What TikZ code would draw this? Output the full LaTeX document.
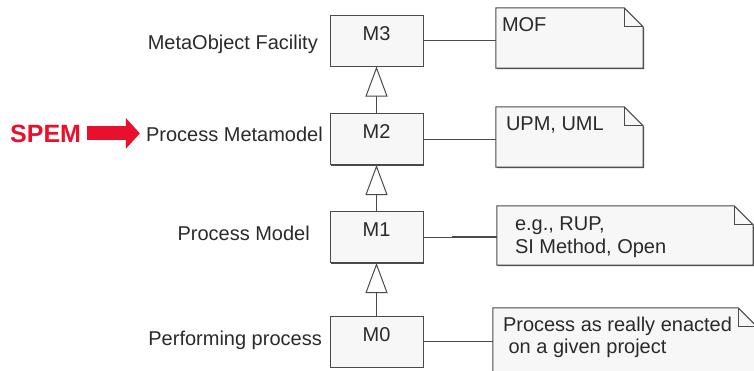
\documentclass[tikz,border=0pt]{standalone}
\usepackage{fontspec}
\setmainfont{Liberation Sans}
\usepackage{xcolor}
\usepackage{tikz}
\usetikzlibrary{arrows.meta,shadows,calc}

\definecolor{spemred}{HTML}{E8102C}
\definecolor{edge}{HTML}{4A4A4A}
\definecolor{paper}{HTML}{F7F7F7}
\definecolor{ink}{HTML}{2A2A2A}

\tikzset{
  lvl/.style={draw=edge, fill=paper, line width=1pt, minimum width=93pt, minimum height=51pt,
    text height=14pt, text depth=15pt, font=\fontsize{20}{24}\selectfont, text=ink,
    drop shadow={shadow xshift=1pt, shadow yshift=-1pt, fill=edge, opacity=1}},
  lbl/.style={inner sep=0pt, font=\fontsize{20}{24}\selectfont, text=ink},
  note/.style={inner sep=0pt},
  notetext/.style={inner sep=0pt, anchor=north west, align=left, font=\fontsize{20}{22.5}\selectfont, text=ink},
  link/.style={draw=edge, line width=1pt},
  genarrow/.style={draw=edge, line width=1pt, -{Triangle[open, fill=white, length=30pt, width=22pt]}},
  spemarrow/.style={draw=spemred, line width=14pt, -{Triangle[length=14pt, width=30pt]}}
}

% note with folded corner
\newcommand{\dogear}[1]{%
  \filldraw[draw=edge, fill=paper, line width=1pt,
    drop shadow={shadow xshift=1pt, shadow yshift=-1pt, fill=edge, opacity=1}]
    (#1.north west) -- ([xshift=-19pt]#1.north east) -- ([yshift=-19pt]#1.north east)
    -- (#1.south east) -- (#1.south west) -- cycle;
  \draw[draw=edge, line width=1pt] ([xshift=-19pt]#1.north east) |- ([yshift=-19pt]#1.north east);
}

\begin{document}
\begin{tikzpicture}[x=1pt, y=-1pt]
    \useasboundingbox (0,0) rectangle (754,370);
    \clip (0,0) rectangle (754,370);

    % Livelli
    \node[lvl] (m3) at (376.5,40.5) {M3};
    \node[lvl] (m2) at (376.5,139) {M2};
    \node[lvl] (m1) at (376.5,237) {M1};
    \node[lvl] (m0) at (376.5,341.5) {M0};

    % Nomi
    \node[lbl, anchor=base east] (lmof) at (318,49) {MetaObject Facility};
    \node[lbl, anchor=base east] (lpmm) at (323,141) {Process Metamodel};
    \node[lbl, anchor=base east] (lpm) at (310,240) {Process Model};
    \node[lbl, anchor=base east] (lpp) at (322,345) {Performing process};

    % SPEM
    \node[lbl, anchor=base west, text=spemred, font=\fontsize{25}{30}\selectfont\bfseries] (spem) at (10,142) {SPEM};
    \draw[spemarrow] ([xshift=6pt]spem.east) -- ([xshift=-6pt]spem.east -| lpmm.west);

    % Note
    \node[note, minimum width=147pt, minimum height=60pt] (mof) at (569.5,38) {};
    \node[note, minimum width=147pt, minimum height=60pt] (upm) at (569.5,137) {};
    \node[note, minimum width=256pt, minimum height=59pt] (rup) at (625,235.5) {};
    \node[note, minimum width=264pt, minimum height=72pt] (proc) at (625,344) {};
    \dogear{mof}
    \dogear{upm}
    \dogear{rup}
    \dogear{proc}
    \node[notetext] (moftxt) at ([xshift=6pt, yshift=-10pt]mof.north west) {MOF};
    \node[notetext] (upmtxt) at ([xshift=10pt, yshift=-10pt]upm.north west) {UPM, UML};
    \node[notetext] (ruptxt) at ([xshift=18pt, yshift=-11pt]rup.north west) {e.g., RUP,\\SI Method, Open};
    \node[notetext] (proctxt) at ([xshift=10pt, yshift=-9pt]proc.north west) {Process as really enacted\\\ on a given project};

    % Collegamenti
    \draw[link] (m3.east) -- (m3.east -| mof.west);
    \draw[link] (m2.east) -- (m2.east -| upm.west);
    \draw[link] (m1.east) -- (m1.east -| rup.west);
    \draw[link, line width=2pt] ([xshift=-45pt]m1.east -| rup.west) -- (m1.east -| rup.west);
    \draw[link] (m0.east) -- (m0.east -| proc.west);

    % Generalizzazioni
    \draw[genarrow] (m2.north) -- (m3.south);
    \draw[genarrow] (m1.north) -- (m2.south);
    \draw[genarrow] (m0.north) -- (m1.south);
\end{tikzpicture}
\end{document}
